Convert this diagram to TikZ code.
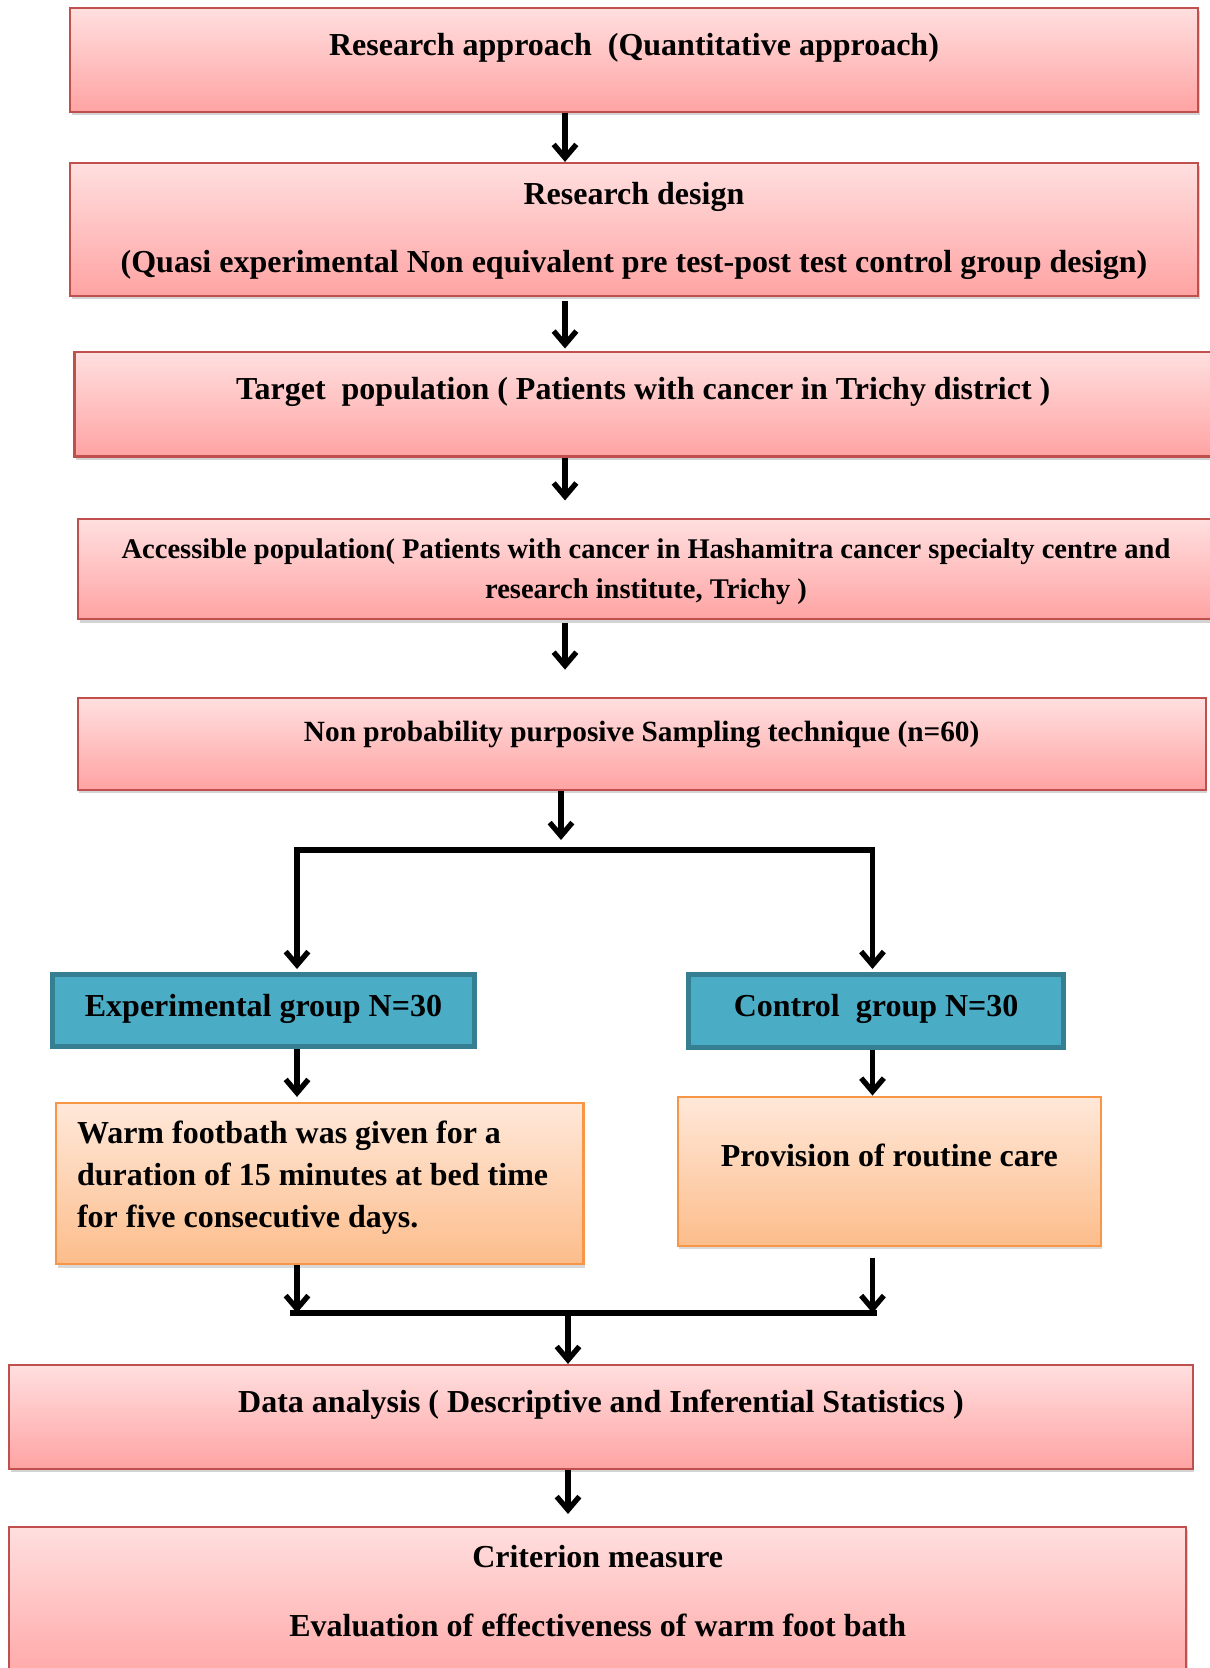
\documentclass[tikz,border=0pt]{standalone}
\usepackage{fontspec}
\setmainfont{Liberation Serif}
\usetikzlibrary{arrows.meta,shadows}
\definecolor{pinkline}{HTML}{C0504D}
\definecolor{pinktop}{HTML}{FFDFDF}
\definecolor{pinkbot}{HTML}{FFA3A3}
\definecolor{tealfill}{HTML}{4BACC6}
\definecolor{tealline}{HTML}{367F93}
\definecolor{peachline}{HTML}{F79646}
\definecolor{peachtop}{HTML}{FFE8D9}
\definecolor{peachbot}{HTML}{FCBD8B}

\begin{document}
\begin{tikzpicture}[
  x=0.375pt,
  y=-0.375pt,
  every node/.style={font=\bfseries\fontsize{12}{14.4}\selectfont, text=black, inner sep=0pt},
  smalltext/.style={font=\bfseries\fontsize{11}{13.2}\selectfont},
  pinkbox/.style={draw=pinkline, line width=0.8pt, top color=pinktop, bottom color=pinkbot,
                  drop shadow={shadow xshift=0.6pt, shadow yshift=-1.3pt, opacity=0.35}},
  tealbox/.style={draw=tealline, line width=1.9pt, fill=tealfill},
  peachbox/.style={draw=peachline, line width=0.8pt, top color=peachtop, bottom color=peachbot,
                   drop shadow={shadow xshift=0.6pt, shadow yshift=-1.3pt, opacity=0.3}},
  flow/.style={line width=2pt, -{Straight Barb[length=5pt, width=8.5pt]}},
  rail/.style={line width=2pt, line cap=rect}
]
  \useasboundingbox (0,0) rectangle (1210,1668);

  % ---- main column (centred multi-line boxes: baseline is the last line) ----
  \node[pinkbox, minimum width=423pt, minimum height=39pt, text height=18pt, text depth=21pt]
    (approach) at (634,60) {Research approach~ (Quantitative approach)};
  \node[pinkbox, minimum width=423pt, minimum height=49.9pt, text height=40.9pt, text depth=9pt,
        align=center]
    (design) at (634,229.5)
    {Research design\\[11.1pt](Quasi experimental Non equivalent pre test-post test control group design)};
  \node[pinkbox, minimum width=426.6pt, minimum height=39.1pt, text height=17.6pt, text depth=21.5pt]
    (target) at (643.3,404.4) {Target~ population ( Patients with cancer in Trichy district )};
  \node[pinkbox, font=\bfseries\fontsize{10.7}{12.8}\selectfont, minimum width=426pt,
        minimum height=37.5pt, text height=29.6pt, text depth=7.9pt, align=center]
    (access) at (646,569.4)
    {Accessible population( Patients with cancer in Hashamitra cancer specialty centre and\\[2.2pt]
     research institute, Trichy )};
  \node[pinkbox, smalltext, minimum width=423pt, minimum height=34.3pt, text height=16.1pt,
        text depth=18.2pt]
    (sampling) at (641.7,743.9) {Non probability purposive Sampling technique (n=60)};

  % ---- two groups ----
  \node[tealbox, minimum width=158.4pt, minimum height=27.2pt, text height=16pt, text depth=11.2pt]
    (expgrp) at (263.5,1010.5) {Experimental group N=30};
  \node[tealbox, minimum width=140.4pt, minimum height=27.6pt, text height=16pt, text depth=11.6pt]
    (ctrlgrp) at (876.1,1011) {Control~ group N=30};
  % (text width box: baseline is the first line)
  \node[peachbox, minimum width=197.8pt, minimum height=60.3pt, text width=182pt, inner xsep=7.9pt,
        text height=14.9pt, text depth=45.4pt, align=flush left]
    (warm) at (319.7,1183.7)
    {Warm footbath was given for a\\[1.5pt]duration of 15 minutes at bed time\\[1.5pt]for five consecutive days.};
  \node[peachbox, minimum width=158.6pt, minimum height=56pt, text height=26.3pt, text depth=29.7pt]
    (routine) at (889.3,1171.3) {Provision of routine care};

  % ---- analysis and outcome ----
  \node[pinkbox, minimum width=443.9pt, minimum height=39pt, text height=17.9pt, text depth=21.1pt]
    (analysis) at (601,1417) {Data analysis ( Descriptive and Inferential Statistics )};
  \node[pinkbox, minimum width=441.3pt, minimum height=61.2pt, text height=41.2pt, text depth=20pt,
        align=center]
    (criterion) at (597.7,1608.4)
    {Criterion measure\\[11.4pt]Evaluation of effectiveness of warm foot bath};

  % ---- connector guides ----
  \coordinate (spine) at (565,0);
  \coordinate (mid) at (568,0);
  \coordinate (forktip) at (561,840);
  \coordinate (forkL) at (297,850);
  \coordinate (forkR) at (872.5,850);
  \coordinate (joinL) at (293,1313);
  \coordinate (joinR) at (874,1313);

  % ---- arrows down the main column ----
  \draw[flow] (approach.south -| spine) -- (design.north -| spine);
  \draw[flow, shorten <=1.5pt, shorten >=1pt] (design.south -| spine) -- (target.north -| spine);
  \draw[flow, shorten >=6.7pt] (target.south -| spine) -- (access.north -| spine);
  \draw[flow, shorten <=0.8pt, shorten >=10.3pt] (access.south -| spine) -- (sampling.north -| spine);
  \draw[flow] (sampling.south -| forktip) -- (forktip);

  % ---- split into the two groups ----
  \draw[rail] (forkL) -- (forkR);
  \draw[flow, shorten >=1pt] (forkL) -- (expgrp.north -| forkL);
  \draw[flow, shorten >=1pt] (forkR) -- (ctrlgrp.north -| forkR);
  \draw[flow, shorten >=2pt] (expgrp.south -| forkL) -- (warm.north -| forkL);
  \draw[flow] (ctrlgrp.south -| forkR) -- (routine.north -| forkR);

  % ---- join and the last two steps ----
  \draw[flow] (warm.south -| forkL) -- (forkL |- joinL);
  \draw[flow, shorten <=4pt] (routine.south -| forkR) -- (forkR |- joinR);
  \draw[rail] (joinL) -- (joinR);
  \draw[flow] (joinL -| mid) -- (analysis.north -| mid);
  \draw[flow, shorten >=4.4pt] (analysis.south -| mid) -- (criterion.north -| mid);
\end{tikzpicture}
\end{document}
